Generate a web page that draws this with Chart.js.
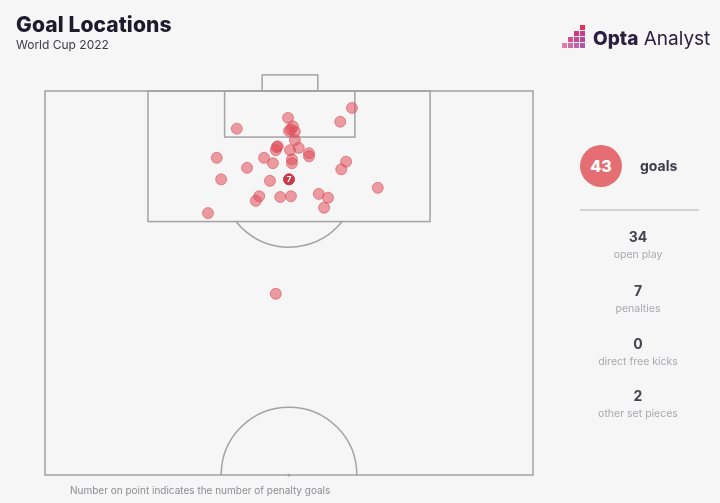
<!DOCTYPE html>
<html>
<head>
<meta charset="utf-8">
<script src="https://cdn.jsdelivr.net/npm/chart.js@4"></script>
<style>
  body { margin: 0; background: #f6f6f6; font-family: Inter, Roboto, sans-serif; }
  #wrap { position: relative; width: 720px; height: 503px; overflow: hidden; background: #f6f6f6; }
  #wrap canvas { position: absolute; left: 0; top: 0; }
  .abs { position: absolute; white-space: nowrap; }
  .title { left: 16px; top: 12px; font-size: 21px; font-weight: 800; color: #1d1a2c; letter-spacing: 0.1px; }
  .sub { left: 16px; top: 37px; font-size: 12px; color: #3c3c44; }
  .logo { left: 593px; top: 27px; font-size: 19px; color: #2a2140; }
  .logo b { font-weight: 800; }
  .sq { position: absolute; width: 5px; height: 5px; }
  .circle { left: 580px; top: 145px; width: 42px; height: 42px; border-radius: 50%; background: #e56e72;
    color: #fff; font-weight: 800; font-size: 16px; line-height: 42px; text-align: center; }
  .goals { left: 640px; top: 157px; font-size: 14px; font-weight: 700; color: #3e3c4c; }
  .divider { left: 580px; top: 209px; width: 119px; height: 2px; background: #d4d4d6; }
  .num { width: 120px; left: 578px; text-align: center; font-size: 14px; font-weight: 700; color: #45434f; }
  .lab { width: 120px; left: 578px; text-align: center; font-size: 10.5px; color: #a9a9ae; }
  .foot { left: 70px; top: 484px; font-size: 10px; color: #8c8c92; }
</style>
</head>
<body>
<div id="wrap">
  <canvas id="c" width="720" height="503"></canvas>
  <div class="abs title">Goal Locations</div>
  <div class="abs sub">World Cup 2022</div>
  <div id="logoSq"></div>
  <div class="abs logo"><b>Opta</b> Analyst</div>
  <div class="abs circle" id="total"></div>
  <div class="abs goals">goals</div>
  <div class="abs divider"></div>
  <div id="stats"></div>
  <div class="abs foot">Number on point indicates the number of penalty goals</div>
</div>
<script>
// goal positions: x = across the pitch (0-100), y = Opta length (goal line at 100, halfway at 50)
const goalX = [62.9, 60.5, 39.3, 49.8, 50.8, 50.0, 51.2, 51.2, 47.7, 47.3, 50.2, 52.0,
  54.1, 54.1, 50.6, 50.6, 35.2, 44.9, 46.7, 41.4, 61.7, 60.7, 36.1, 46.1,
  68.2, 43.9, 43.2, 48.2, 50.4, 56.1, 58.0, 57.2, 33.4, 47.3, 47.5, 50.4]
const goalY = [97.8, 96.0, 95.1, 96.5, 95.4, 94.8, 94.7, 93.6, 92.8, 92.3, 92.3, 92.6,
  91.9, 91.5, 91.1, 90.6, 91.3, 91.3, 90.6, 90.0, 90.8, 89.8, 88.5, 88.3,
  87.4, 86.3, 85.7, 86.2, 86.3, 86.6, 86.1, 84.8, 84.1, 73.6, 92.7, 95.0]

const penaltyX = [50.0]
const penaltyY = [88.5]
const penaltyCount = [7]

const totalGoals = 43
const statValues = [34, 7, 0, 2]
const statLabels = ['open play', 'penalties', 'direct free kicks', 'other set pieces']
const statTops = [228, 282, 335, 387]

// side panel
document.getElementById('total').textContent = totalGoals
document.getElementById('stats').innerHTML = statValues.map((v, i) => `
  <div class="abs num" style="top:${statTops[i]}px">${v}</div>
  <div class="abs lab" style="top:${statTops[i] + 20}px">${statLabels[i]}</div>
`).join('')

// logo squares
const sq = [
  [580, 25, '#e3325a'],
  [574, 31, '#d8367a'], [580, 31, '#cf3a8a'],
  [568, 37, '#d64f90'], [574, 37, '#c84598'], [580, 37, '#b8449e'],
  [562, 43, '#e07aa8'], [568, 43, '#d06aa6'], [574, 43, '#c062aa'], [580, 43, '#a85aa8']
]
document.getElementById('logoSq').innerHTML = sq.map(([x, y, c]) =>
  `<div class="sq" style="left:${x}px;top:${y}px;background:${c}"></div>`).join('')

const LINE = '#a3a3a6'

const pitchPlugin = {
  id: 'pitch',
  beforeDatasetsDraw(chart) {
    const {ctx, scales: {x, y}} = chart
    const px = v => x.getPixelForValue(v)
    const py = v => y.getPixelForValue(v)
    ctx.save()
    ctx.strokeStyle = LINE
    ctx.lineWidth = 1.5
    const rect = (x1, y1, x2, y2) => {
      ctx.strokeRect(px(x1), py(y2), px(x2) - px(x1), py(y1) - py(y2))
    }
    rect(0, 50, 100, 100)        // half pitch
    rect(21.1, 83, 78.9, 100)    // penalty area
    rect(36.8, 94, 63.5, 100)    // six yard box
    rect(44.5, 100, 55.9, 102.1) // goal

    const r = px(50 + 13.9) - px(50)
    // penalty arc
    const cx = px(50), cy = py(88.5)
    const boxY = py(83)
    const a = Math.asin((boxY - cy) / r)
    ctx.beginPath()
    ctx.arc(cx, cy, r, a, Math.PI - a)
    ctx.stroke()
    // centre circle
    ctx.beginPath()
    ctx.arc(px(50), py(50), r, Math.PI, 2 * Math.PI)
    ctx.stroke()
    // centre spot
    ctx.fillStyle = LINE
    ctx.beginPath()
    ctx.arc(px(50), py(50), 1.5, 0, 2 * Math.PI)
    ctx.fill()
    ctx.restore()
  },
  afterDatasetsDraw(chart) {
    const {ctx} = chart
    const meta = chart.getDatasetMeta(1)
    ctx.save()
    ctx.fillStyle = '#ffffff'
    ctx.font = 'bold 8px Inter, sans-serif'
    ctx.textAlign = 'center'
    ctx.textBaseline = 'middle'
    meta.data.forEach((pt, i) => {
      ctx.fillText(penaltyCount[i], pt.x, pt.y + 0.5)
    })
    ctx.restore()
  }
}

new Chart(document.getElementById('c'), {
  type: 'scatter',
  data: {
    datasets: [
      {
        data: goalX.map((v, i) => ({x: v, y: goalY[i]})),
        backgroundColor: 'rgba(226, 78, 90, 0.55)',
        borderColor: 'rgba(214, 70, 82, 0.55)',
        borderWidth: 1,
        pointRadius: 5.5,
        clip: false
      },
      {
        data: penaltyX.map((v, i) => ({x: v, y: penaltyY[i]})),
        backgroundColor: 'rgba(196, 40, 56, 0.9)',
        borderColor: 'rgba(196, 40, 56, 0.9)',
        borderWidth: 1,
        pointRadius: 5.5,
        clip: false
      }
    ]
  },
  options: {
    responsive: false,
    animation: false,
    devicePixelRatio: 1,
    layout: {padding: {left: 45, right: 187, top: 91, bottom: 28}},
    scales: {
      x: {type: 'linear', min: 0, max: 100, display: false},
      y: {type: 'linear', min: 50, max: 100, display: false}
    },
    plugins: {
      legend: {display: false},
      tooltip: {enabled: false}
    }
  },
  plugins: [pitchPlugin]
})
</script>
</body>
</html>
